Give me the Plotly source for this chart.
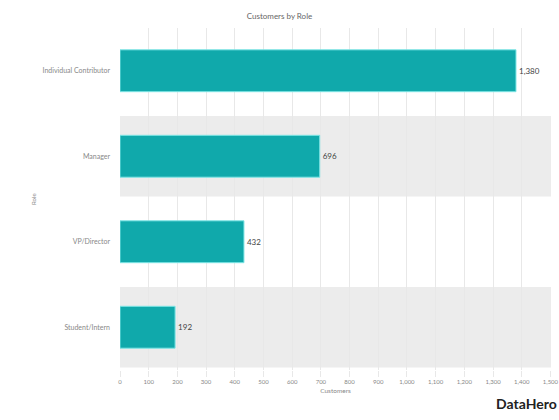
import plotly.graph_objects as go

# Customers per role
roles = ["Individual Contributor", "Manager", "VP/Director", "Student/Intern"]
customers = [1380, 696, 432, 192]
x_ticks = list(range(0, 1501, 100))

BAR = "#10a9ab"
BAND = "#ececec"
GRID = "#e8e8e8"
FONT = "Lato, 'Open Sans', sans-serif"

fig = go.Figure(
    go.Bar(
        x=customers,
        y=roles,
        orientation="h",
        marker=dict(color=BAR, line=dict(color="#7fe6e6", width=1)),
        width=0.49,
        text=[f"{v:,}" for v in customers],
        textposition="outside",
        textfont=dict(size=8, color="#444444", family=FONT),
        cliponaxis=False,
        hoverinfo="skip",
    )
)

# alternating shaded bands behind every second category
shapes = []
for i, r in enumerate(roles):
    if i % 2 == 1:
        shapes.append(dict(
            type="rect", xref="paper", yref="y",
            x0=0, x1=1, y0=i - 0.47, y1=i + 0.47,
            fillcolor=BAND, line=dict(width=0), layer="below",
        ))

fig.update_layout(
    width=559, height=420,
    margin=dict(l=120, r=8, t=28, b=50, autoexpand=False),
    paper_bgcolor="white", plot_bgcolor="white",
    font=dict(family=FONT, color="#777777"),
    showlegend=False,
    shapes=shapes,
    title=dict(
        text="Customers by Role", x=0.5, xanchor="center",
        y=1 - 16 / 420, yanchor="middle",
        font=dict(size=8, color="#666666", family=FONT),
    ),
    xaxis=dict(
        range=[0, 1502],
        tickvals=x_ticks,
        ticktext=[f"{v:,}" for v in x_ticks],
        tickfont=dict(size=6, color="#888888"),
        ticklabeloverflow="allow",
        automargin=False,
        showgrid=True, gridcolor=GRID, gridwidth=1,
        ticks="outside", ticklen=6, tickcolor=GRID,
        zeroline=False, showline=False,
        title=dict(text="Customers", font=dict(size=6.5, color="#888888"), standoff=4),
        layer="below traces",
    ),
    yaxis=dict(
        categoryorder="array",
        categoryarray=roles,
        autorange="reversed",
        automargin=False,
        tickfont=dict(size=7, color="#888888"),
        showgrid=False, zeroline=False, showline=False,
        ticks="", ticklabelstandoff=9,
    ),
    annotations=[
        dict(text="Role", xref="paper", yref="paper",
             x=(33 - 120) / 431, y=0.5, xanchor="center", yanchor="middle",
             textangle=-90, showarrow=False,
             font=dict(size=6, color="#888888", family=FONT)),
        dict(text="<b>DataHero</b>", xref="paper", yref="paper",
             x=(494 - 120) / 431, y=-(403 - 370) / 342, xanchor="left", yanchor="middle",
             showarrow=False,
             font=dict(size=14, color="#222222", family="Lato, sans-serif")),
    ],
)

fig.write_html("out.html")
